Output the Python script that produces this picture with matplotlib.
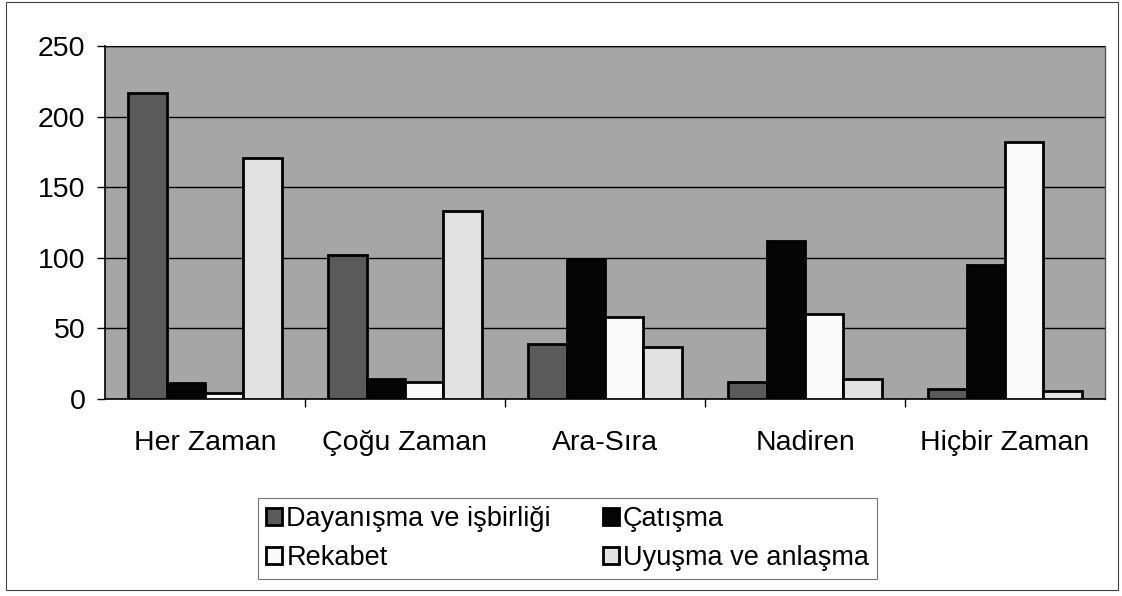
import matplotlib
matplotlib.use("Agg")
import matplotlib.pyplot as plt
import numpy as np
from matplotlib.patches import Rectangle

categories = ["Her Zaman", "Çoğu Zaman", "Ara-Sıra", "Nadiren", "Hiçbir Zaman"]
series_names = ["Dayanışma ve işbirliği", "Çatışma", "Rekabet", "Uyuşma ve anlaşma"]
dayanisma = [217, 102, 39, 12, 7]
catisma = [11, 14, 99, 112, 95]
rekabet = [4, 12, 58, 60, 182]
uyusma = [171, 133, 37, 14, 6]
yticks = [0, 50, 100, 150, 200, 250]

values = [dayanisma, catisma, rekabet, uyusma]
colors = ["#5a5a5a", "#050505", "#fafafa", "#e2e2e2"]

plt.rcParams['font.family'] = ['Liberation Sans', 'DejaVu Sans']
fig = plt.figure(figsize=(11.22, 5.96), dpi=100)
ax = fig.add_axes([105/1122, 1-399/596, (1105-105)/1122, (399-46)/596])
ax.set_facecolor("#a6a6a6")

n = len(categories)
gap = 1.2
bw = 1.0 / (4 + gap)
x = np.arange(n)
handles = []
for i, (vals, c, name) in enumerate(zip(values, colors, series_names)):
    offs = (-2 + i + 0.5) * bw
    h = ax.bar(x + offs, vals, width=bw, color=c, edgecolor="black", linewidth=2.0,
               label=name, zorder=3)
    handles.append(h)

ax.set_xlim(-0.5, n - 0.5)
ax.set_ylim(0, 250)
ax.set_yticks(yticks)
ax.set_yticklabels([str(v) for v in yticks], fontsize=20.5)
ax.yaxis.grid(True, color="black", linewidth=1.0, zorder=1)
ax.set_axisbelow(True)
ax.set_xticks(x)
ax.set_xticklabels(categories, fontsize=20.5)
ax.tick_params(axis="x", length=0, pad=22)
ax.set_xticks(np.arange(0.5, n - 1, 1), minor=True)
ax.tick_params(axis="x", which="minor", length=6, width=1, direction="out")
ax.tick_params(axis="y", length=6, width=1, direction="out", pad=8)
ax.spines["top"].set_visible(False)
ax.spines["right"].set_linewidth(1.0)
ax.spines["right"].set_color("#555555")
ax.spines["left"].set_linewidth(1.2)
ax.spines["bottom"].set_linewidth(1.2)
ax.axhline(250, color="black", linewidth=1.0, zorder=2)

order = [0, 2, 1, 3]
leg = fig.legend([handles[i] for i in order], [series_names[i] for i in order],
                 ncol=2, loc="center", bbox_to_anchor=(567.5/1122, 1-538.5/596),
                 fontsize=19.5, frameon=True, fancybox=False, edgecolor="#555555",
                 handlelength=0.6, handleheight=0.6, handletextpad=0.15,
                 columnspacing=1.9, labelspacing=0.5, borderpad=0.3, borderaxespad=0)
leg.get_frame().set_linewidth(0.8)

fig.patches.append(Rectangle((6/1122, 6/596), 1112/1122, 588/596, transform=fig.transFigure,
                             fill=False, edgecolor="#444444", linewidth=0.8))

fig.savefig("out.png", dpi=100)
